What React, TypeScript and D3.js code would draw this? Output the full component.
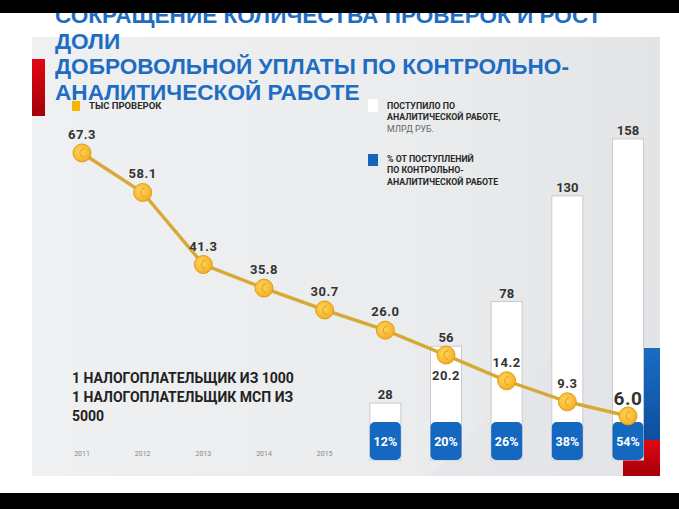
import React from "react";
import * as d3 from "d3";

const years = ["2011", "2012", "2013", "2014", "2015", "2016", "2017", "2018", "2019", "2020"];
const tickYears = ["2011", "2012", "2013", "2014", "2015"];
const inspections = [67.3, 58.1, 41.3, 35.8, 30.7, 26.0, 20.2, 14.2, 9.3, 6.0];
const barYears = ["2016", "2017", "2018", "2019", "2020"];
const revenue = [28, 56, 78, 130, 158];
const share = [12, 20, 26, 38, 54];

const titleLines = [
  "СОКРАЩЕНИЕ КОЛИЧЕСТВА ПРОВЕРОК И РОСТ",
  "ДОЛИ",
  "ДОБРОВОЛЬНОЙ УПЛАТЫ ПО КОНТРОЛЬНО-",
  "АНАЛИТИЧЕСКОЙ РАБОТЕ",
];
const noteLines = ["1 НАЛОГОПЛАТЕЛЬЩИК ИЗ 1000", "1 НАЛОГОПЛАТЕЛЬЩИК МСП ИЗ", "5000"];
const legendLine = "ТЫС ПРОВЕРОК";
const legendBars = ["ПОСТУПИЛО ПО", "АНАЛИТИЧЕСКОЙ РАБОТЕ,", "МЛРД РУБ."];
const legendPct = ["% ОТ ПОСТУПЛЕНИЙ", "ПО КОНТРОЛЬНО-", "АНАЛИТИЧЕСКОЙ РАБОТЕ"];

const W = 679;
const H = 509;
const FONT = "Roboto, 'Noto Sans', sans-serif";

export default function App() {
  const x = d3.scalePoint<string>().domain(years).range([82, 628]);
  const yLine = d3.scaleLinear().domain([0, 70]).range([441.7, 141.4]);
  const yBar = d3.scaleLinear().domain([0, 160]).range([460, 134.9]);
  const barW = 31;
  const boxTop = 422;

  const lineGen = d3
    .line<number>()
    .x((_, i) => x(years[i]) as number)
    .y((d) => yLine(d));

  return (
    <div style={{ position: "absolute", left: 0, top: 0, width: W, height: H, background: "#fff" }}>
      <svg width={W} height={H} style={{ display: "block" }} fontFamily={FONT}>
        <defs>
          <linearGradient id="panel" x1="0" y1="0" x2="1" y2="0">
            <stop offset="0" stopColor="#eef0f2" />
            <stop offset="0.6" stopColor="#eaecee" />
            <stop offset="1" stopColor="#e2e4e6" />
          </linearGradient>
          <linearGradient id="red" x1="0" y1="0" x2="0" y2="1">
            <stop offset="0" stopColor="#e30613" />
            <stop offset="1" stopColor="#a3000b" />
          </linearGradient>
          <linearGradient id="blueStripe" x1="0" y1="0" x2="0" y2="1">
            <stop offset="0" stopColor="#1a6cc4" />
            <stop offset="1" stopColor="#0d4f9e" />
          </linearGradient>
          <radialGradient id="coin" cx="0.4" cy="0.4" r="0.7">
            <stop offset="0" stopColor="#ffd65c" />
            <stop offset="1" stopColor="#f2a91c" />
          </radialGradient>
        </defs>

        {/* panel */}
        <rect x={32} y={37} width={628} height={439} fill="url(#panel)" />
        <polygon points="430,476 620,290 660,290 660,476" fill="#e3e5e7" opacity={0.6} />
        <rect x={32} y={59} width={13} height={57} fill="url(#red)" />
        <rect x={642} y={348} width={18} height={92} fill="url(#blueStripe)" />
        <rect x={623} y={440} width={37} height={36} fill="url(#red)" />

        {/* title */}
        {titleLines.map((t, i) => (
          <text key={i} x={55} y={23 + i * 25.5} fontSize={22.6} fontWeight={700} fill="#1f6dc2" fontFamily="'Liberation Sans', Arial, sans-serif">
            {t}
          </text>
        ))}

        {/* legend */}
        <rect x={72} y={101} width={8} height={10} fill="#f7b500" />
        <text x={89} y={108.5} fontSize={9.5} fontWeight={700} fill="#2a2a2a">{legendLine}</text>
        <rect x={368} y={99} width={10} height={13} fill="#ffffff" />
        {legendBars.map((t, i) => (
          <text key={i} x={387} y={108.5 + i * 11.7} fontSize={8.8} fontWeight={i === 2 ? 400 : 700} fill={i === 2 ? "#666" : "#2a2a2a"}>
            {t}
          </text>
        ))}
        <rect x={368} y={154} width={10} height={12} fill="#1565c0" />
        {legendPct.map((t, i) => (
          <text key={i} x={387} y={161.5 + i * 11.7} fontSize={8.8} fontWeight={700} fill="#2a2a2a">
            {t}
          </text>
        ))}

        {/* year ticks */}
        {tickYears.map((yr) => (
          <text key={yr} x={x(yr)} y={456} fontSize={7} fill="#888" textAnchor="middle">
            {yr}
          </text>
        ))}

        {/* note */}
        {noteLines.map((t, i) => (
          <text key={i} x={72} y={383 + i * 19} fontSize={14} fontWeight={700} fill="#222">
            {t}
          </text>
        ))}

        {/* bars */}
        {barYears.map((yr, i) => {
          const cx = x(yr) as number;
          const top = yBar(revenue[i]);
          return (
            <g key={yr}>
              <rect x={cx - barW / 2} y={top} width={barW} height={yBar(0) - top} fill="#ffffff" stroke="#c9cbcd" strokeWidth={1} />
              <text x={cx} y={top - 4} fontSize={13} fontWeight={700} fill="#333" textAnchor="middle">
                {revenue[i]}
              </text>
              <rect x={cx - barW / 2} y={boxTop} width={barW} height={yBar(0) - boxTop} rx={5} fill="#1468c0" />
              <text x={cx} y={446} fontSize={12.5} fontWeight={700} fill="#ffffff" textAnchor="middle">
                {share[i]}%
              </text>
            </g>
          );
        })}

        {/* line */}
        <path d={lineGen(inspections) || ""} fill="none" stroke="#d8ac38" strokeWidth={3.5} />
        <path d={lineGen(inspections) || ""} fill="none" stroke="#b88d22" strokeWidth={1} strokeDasharray="1 2" opacity={0.5} />
        {inspections.map((v, i) => {
          const cx = x(years[i]) as number;
          const cy = yLine(v);
          const below = i === 6;
          const big = i === 9;
          return (
            <g key={i}>
              <circle cx={cx} cy={cy} r={9} fill="url(#coin)" stroke="#e39b17" strokeWidth={1} />
              <path d={`M${cx + 2},${cy - 4} A4,4 0 1,0 ${cx + 2},${cy + 4}`} fill="none" stroke="#e8a020" strokeWidth={1.2} />
              <text
                x={cx}
                y={below ? cy + 25 : big ? cy - 11 : cy - 14}
                fontSize={big ? 19 : 13}
                fontWeight={700}
                fill="#333"
                textAnchor="middle"
                letterSpacing={0.5}
              >
                {v.toFixed(1)}
              </text>
            </g>
          );
        })}

        {/* black bands */}
        <rect x={0} y={0} width={W} height={13} fill="#000" />
        <rect x={0} y={493} width={W} height={16} fill="#000" />
      </svg>
    </div>
  );
}
